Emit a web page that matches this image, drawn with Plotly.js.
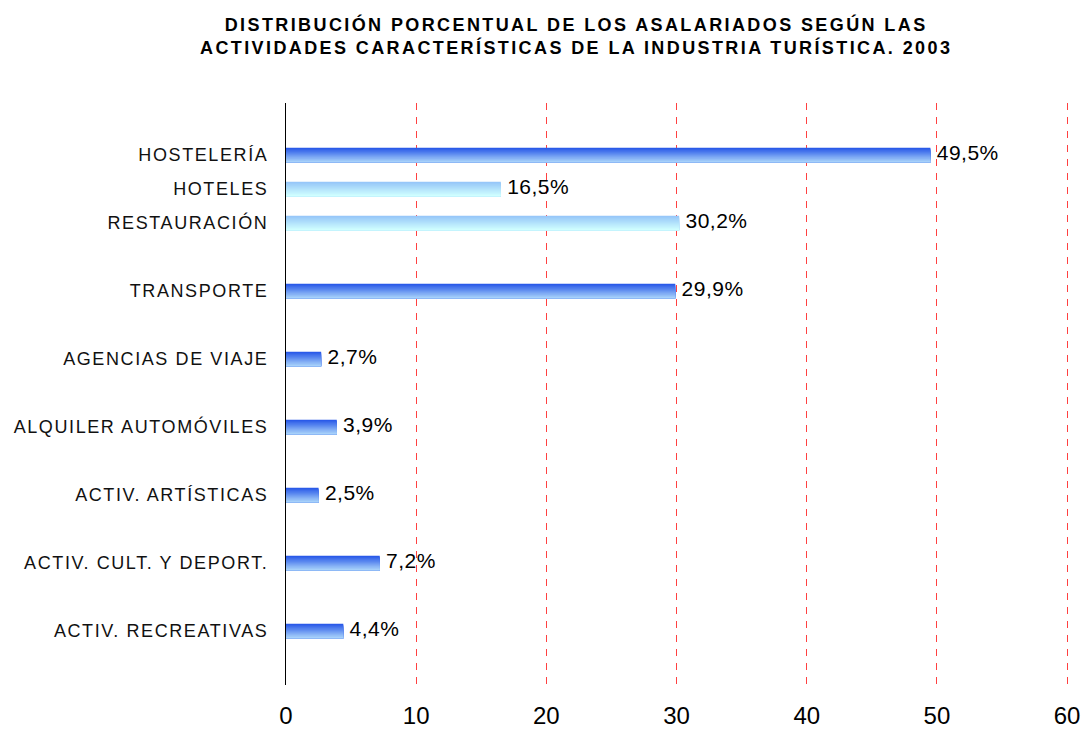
<!DOCTYPE html>
<html>
<head>
<meta charset="utf-8">
<script src="https://cdn.plot.ly/plotly-3.0.1.min.js"></script>
<style>
  html, body { margin: 0; padding: 0; background: #fff; }
  #chart { width: 1083px; height: 731px; }
  .ytick text { letter-spacing: 1.6px; }
  .gtitle { letter-spacing: 2.4px; }
  .textpoint text { letter-spacing: 0.5px; }
</style>
</head>
<body>
<div id="chart"></div>
<script>
// ---- data ----
const categories = [
  'HOSTELERÍA', 'HOTELES', 'RESTAURACIÓN', 'TRANSPORTE', 'AGENCIAS DE VIAJE',
  'ALQUILER AUTOMÓVILES', 'ACTIV. ARTÍSTICAS', 'ACTIV. CULT. Y DEPORT.', 'ACTIV. RECREATIVAS'
];
const values = [49.5, 16.5, 30.2, 29.9, 2.7, 3.9, 2.5, 7.2, 4.4];
// sub-activities of HOSTELERÍA (drawn lighter and packed closer)
const subOf = ['', 'HOSTELERÍA', 'HOSTELERÍA', '', '', '', '', '', ''];
const xTicks = [0, 10, 20, 30, 40, 50, 60];
const titleText = 'DISTRIBUCIÓN PORCENTUAL DE LOS ASALARIADOS SEGÚN LAS<br>ACTIVIDADES CARACTERÍSTICAS DE LA INDUSTRIA TURÍSTICA. 2003';

// ---- layout helpers ----
const pos = [];
categories.forEach((c, i) => {
  if (i === 0) pos.push(0);
  else pos.push(pos[i - 1] + (subOf[i] ? 1 : 2));
});

const darkTop = [40, 88, 232], darkBot = [168, 210, 250];
const lightTop = [150, 198, 248], lightBot = [208, 255, 255];
function mix(a, b, t) {
  return 'rgb(' + a.map((v, k) => Math.round(v + (b[k] - v) * t)).join(',') + ')';
}

const N = 14;
const W = 0.43;
const traces = [];
for (let k = 0; k < N; k++) {
  const t = k / (N - 1);
  traces.push({
    type: 'bar',
    orientation: 'h',
    x: values,
    y: pos,
    width: W - k * W / N,
    offset: -W / 2 + k * W / N,
    marker: {
      color: categories.map((c, i) => subOf[i] ? mix(lightTop, lightBot, t) : mix(darkTop, darkBot, t)),
      line: { width: 0 }
    },
    hoverinfo: 'skip',
    showlegend: false
  });
}
traces.push({
  type: 'scatter',
  mode: 'text',
  x: values,
  y: pos,
  text: values.map(v => '\u00a0' + v.toFixed(1).replace('.', ',') + '%'),
  textposition: 'middle right',
  textfont: { family: 'Arial, Liberation Sans, sans-serif', size: 21, color: '#000' },
  cliponaxis: false,
  hoverinfo: 'skip',
  showlegend: false
});

const layout = {
  width: 1083,
  height: 731,
  margin: { l: 286, r: 12, t: 103, b: 46 },
  paper_bgcolor: '#fff',
  plot_bgcolor: '#fff',
  barmode: 'overlay',
  separators: ',.',
  title: {
    text: titleText,
    font: { family: 'Arial, Liberation Sans, sans-serif', size: 18, color: '#000', weight: 'bold' },
    xref: 'container', x: 0.532, xanchor: 'center',
    yref: 'container', y: 0.958, yanchor: 'top'
  },
  xaxis: {
    range: [0, 60.3],
    tickvals: xTicks,
    ticktext: xTicks.map(String),
    showgrid: true,
    gridcolor: '#ff4040',
    gridwidth: 1,
    griddash: '7px,7px',
    zeroline: false,
    showline: false,
    ticks: 'outside',
    ticklen: 9,
    tickcolor: 'rgba(0,0,0,0)',
    tickfont: { family: 'Arial, Liberation Sans, sans-serif', size: 24, color: '#000' },
    fixedrange: true
  },
  yaxis: {
    range: [15.59, -1.53],
    tickvals: pos,
    ticktext: categories,
    showgrid: false,
    zeroline: false,
    showline: true,
    linecolor: '#000',
    linewidth: 1,
    ticks: 'outside',
    ticklen: 13,
    tickcolor: 'rgba(0,0,0,0)',
    tickfont: { family: 'Arial, Liberation Sans, sans-serif', size: 18, color: '#111' },
    fixedrange: true
  }
};

Plotly.newPlot('chart', traces, layout, { displayModeBar: false, staticPlot: true });
</script>
</body>
</html>
